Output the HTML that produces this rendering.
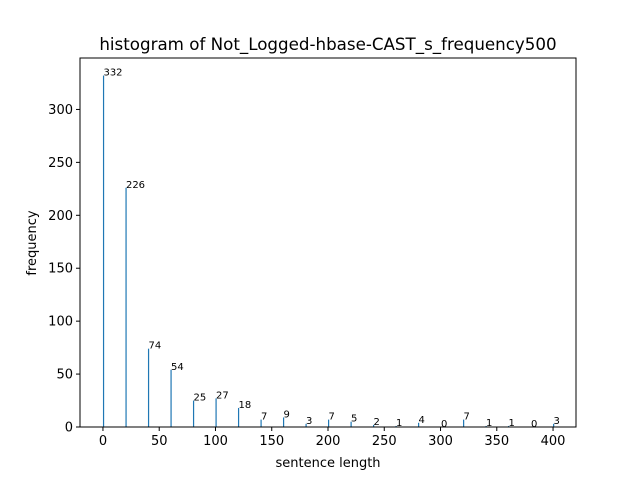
<!DOCTYPE html>
<html><head><meta charset="utf-8"><style>
body{margin:0;background:#fff;font-family:"Liberation Sans","DejaVu Sans",sans-serif;}
</style></head><body>
<svg id="c" width="640" height="480" xmlns="http://www.w3.org/2000/svg">
<rect width="640" height="480" fill="#fff"/>
<text x="328" y="50" font-size="16.7" text-anchor="middle" fill="#000" font-family="DejaVu Sans, sans-serif">histogram of Not_Logged-hbase-CAST_s_frequency500</text>
<g id="bars"></g>
<g id="axes"></g>
<rect x="80" y="58" width="496" height="369" fill="none" stroke="#000" stroke-width="1"/>
<text x="328" y="467" font-size="13" text-anchor="middle" font-family="DejaVu Sans, sans-serif">sentence length</text>
<text transform="translate(36,243) rotate(-90)" font-size="13" text-anchor="middle" font-family="DejaVu Sans, sans-serif">frequency</text>
</svg>
<script>
const binStarts=[0,20,40,60,80,100,120,140,160,180,200,220,240,260,280,300,320,340,360,380,400];
const counts=[332,226,74,54,25,27,18,7,9,3,7,5,2,1,4,0,7,1,1,0,3];
const xTicks=[0,50,100,150,200,250,300,350,400];
const yTicks=[0,50,100,150,200,250,300];
const NS="http://www.w3.org/2000/svg";
const X0=80,X1=576,Y0=427,Y1=58,xmin=-20.4,xmax=420.4,ymax=348.6;
const sx=v=>X0+(v-xmin)/(xmax-xmin)*(X1-X0);
const sy=v=>Y0-v/ymax*(Y0-Y1);
const bars=document.getElementById('bars'),axes=document.getElementById('axes');
function mk(t,a,p){const e=document.createElementNS(NS,t);for(const k in a)e.setAttribute(k,a[k]);p.appendChild(e);return e;}
binStarts.forEach((b,i)=>{
 const v=counts[i];const x=sx(b);
 const r=mk('rect',{x:x,y:sy(v),width:1.2,height:Y0-sy(v),fill:'#1f77b4'},bars);
 
 
 const t=mk('text',{x:x+0.5,y:sy(v),'font-size':10,'font-family':'DejaVu Sans, sans-serif'},bars);
 t.textContent=v;
 
 
});
xTicks.forEach(v=>{
 const x=sx(v);
 mk('line',{x1:x,x2:x,y1:Y0,y2:Y0+4,stroke:'#000'},axes);
 const t=mk('text',{x:x,y:Y0+18,'font-size':13,'text-anchor':'middle','font-family':'DejaVu Sans, sans-serif'},axes);
 t.textContent=v;
 
 
});
yTicks.forEach(v=>{
 const y=sy(v);
 mk('line',{x1:X0-4,x2:X0,y1:y,y2:y,stroke:'#000'},axes);
 const t=mk('text',{x:X0-7,y:y+4.5,'font-size':13,'text-anchor':'end','font-family':'DejaVu Sans, sans-serif'},axes);
 t.textContent=v;
 
 
});
</script>
</body></html>
